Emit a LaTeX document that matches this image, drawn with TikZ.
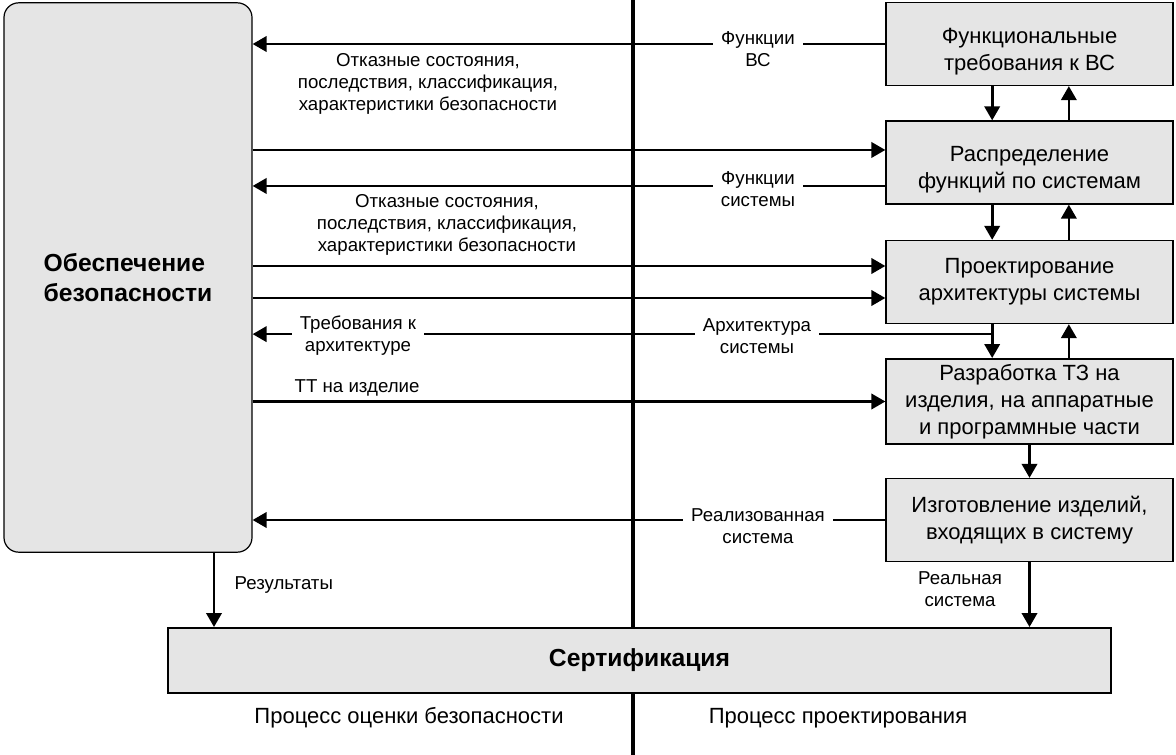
\documentclass[tikz,border=0pt]{standalone}
\usepackage{fontspec}
\setmainfont{Liberation Sans}
\usetikzlibrary{arrows.meta}

\begin{document}
\begin{tikzpicture}[x=0.75pt, y=-0.75pt, >={Triangle[length=10.5pt,width=11.5pt]},
    line width=2pt,
    proc/.style={draw, line width=1.2pt, fill=black!10, minimum width=215pt, minimum height=62pt,
        inner sep=0pt, align=center, font=\fontsize{16.5}{20.2}\selectfont},
    lbl/.style={align=center, font=\fontsize{14}{16.5}\selectfont, inner sep=1pt},
    onl/.style={lbl, fill=white, inner xsep=6pt}]
    \useasboundingbox (0,0) rectangle (1176,755);

    % Divider between the two processes
    \draw[line width=2.3pt] (633,0) -- (633,755);

    % Blocks
    \node[proc, line width=0.9pt, rounded corners=11pt, minimum width=186pt, minimum height=412pt,
        align=left, font=\fontsize{18.5}{22.5}\selectfont\bfseries] (safety) at (128,277.5) {Обеспечение\\безопасности};
    \node[proc, text height=43pt] (funreq) at (1029.5,44) {Функциональные\\требования к ВС};
    \node[proc, text height=42pt] (dist) at (1029.5,162.5) {Распределение\\функций по системам};
    \node[proc] (arch) at (1029.5,282) {Проектирование\\архитектуры системы};
    \node[proc, minimum height=64pt] (spec) at (1029.5,401.5) {Разработка ТЗ на\\изделия, на аппаратные\\и программные части};
    \node[proc] (make) at (1029.5,520) {Изготовление изделий,\\входящих в систему};
    \node[proc, minimum width=707pt, minimum height=49pt, font=\fontsize{18.5}{22}\selectfont\bfseries] (cert) at (639.5,660.5) {Сертификация};

    % Design chain
    \foreach \a/\b in {funreq/dist, dist/arch, arch/spec} {
        \draw[->] ([xshift=-28pt]\a.south) -- ([xshift=-28pt]\b.north);
        \draw[->] ([xshift=29.5pt]\b.north) -- ([xshift=29.5pt]\a.south);
    }
    \draw[->] (spec) -- (make);
    \draw[->] (make) -- (make |- cert.north);

    % Links to the safety block
    \coordinate (d1) at ([yshift=9.4pt]dist.west);
    \coordinate (d2) at ([yshift=-17.6pt]dist.west);
    \coordinate (a1) at ([yshift=12pt]arch.west);
    \coordinate (a2) at ([yshift=-12pt]arch.west);
    \coordinate (ja) at ([xshift=-28pt,yshift=-7.5pt]arch.south);
    \coordinate (res) at ([xshift=64.5pt]safety.south);
    \draw[->] (funreq.west) -- (funreq.west -| safety.east);
    \draw[->] (d1 -| safety.east) -- (d1);
    \draw[->] (d2) -- (d2 -| safety.east);
    \draw[->] (a1 -| safety.east) -- (a1);
    \draw[->] (a2 -| safety.east) -- (a2);
    \draw[->] (ja) -- (ja -| safety.east);
    \draw[->] (spec.west -| safety.east) -- (spec.west);
    \draw[->] (make.west) -- (make.west -| safety.east);
    \draw[->] (res) -- (res |- cert.north);

    % Labels
    \node[onl] (fvs) at (758,49) {Функции\\ВС};
    \node[lbl] (fail1) at (428,84) {Отказные состояния,\\последствия, классификация,\\характеристики безопасности};
    \node[onl] (fsys) at (758,189) {Функции\\системы};
    \node[lbl] (fail2) at (447,225) {Отказные состояния,\\последствия, классификация,\\характеристики безопасности};
    \node[onl] (reqarch) at (358,336) {Требования к\\архитектуре};
    \node[onl] (archsys) at (757,336) {Архитектура\\системы};
    \node[lbl, anchor=west] (tt) at (292,388) {ТТ на изделие};
    \node[onl] (impl) at (758,526) {Реализованная\\система};
    \node[lbl] (real) at (960,589) {Реальная\\система};
    \node[lbl, anchor=west] (restxt) at (232,585) {Результаты};
    \node[lbl, font=\fontsize{16.5}{20}\selectfont] (evalproc) at (409,718) {Процесс оценки безопасности};
    \node[lbl, font=\fontsize{16.5}{20}\selectfont] (desproc) at (838,718) {Процесс проектирования};
\end{tikzpicture}
\end{document}
